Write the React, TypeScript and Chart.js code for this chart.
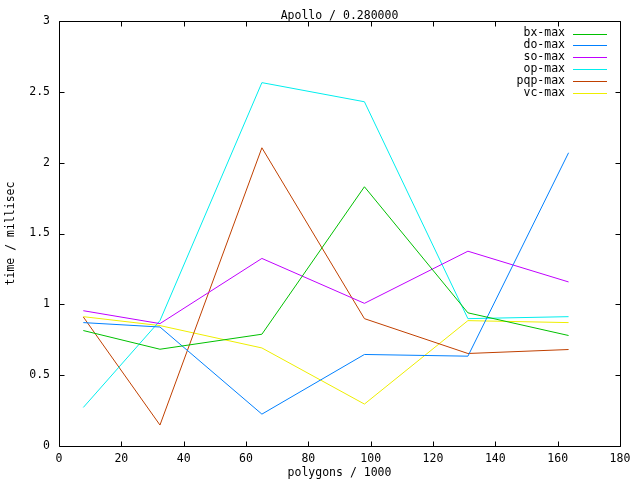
import React, { useEffect, useRef } from "react";
import { Chart, registerables } from "chart.js";

Chart.register(...registerables);

const polygons = [7.8, 32.4, 65.1, 98.0, 131.2, 163.5];
const seriesNames = ["bx-max", "do-max", "so-max", "op-max", "pqp-max", "vc-max"];
const seriesColors = ["#00c000", "#0080ff", "#c000ff", "#00eeee", "#c04000", "#eeee00"];
const bxMax = [0.815, 0.683, 0.789, 1.83, 0.94, 0.78];
const doMax = [0.871, 0.84, 0.225, 0.646, 0.634, 2.07];
const soMax = [0.955, 0.864, 1.324, 1.007, 1.375, 1.158];
const opMax = [0.272, 0.885, 2.565, 2.43, 0.899, 0.913];
const pqpMax = [0.911, 0.148, 2.105, 0.899, 0.653, 0.681];
const vcMax = [0.913, 0.85, 0.692, 0.296, 0.885, 0.871];
const xTicksStep = 20;
const yTicksStep = 0.5;
const titleText = "Apollo / 0.280000";
const xTitle = "polygons / 1000";
const yTitle = "time / millisec";

const FAMILY = "'DejaVu Sans Mono', monospace";
const SIZE = 11.5;
const FONT = `${SIZE}px ${FAMILY}`;

const gnuplotDecor = {
  id: "gnuplotDecor",
  afterDraw(chart: any) {
    const ctx = chart.ctx;
    const ca = chart.chartArea;
    const xs = chart.scales.x;
    const ys = chart.scales.y;
    ctx.save();
    ctx.strokeStyle = "#000";
    ctx.lineWidth = 1;
    const L = Math.round(ca.left) + 0.5;
    const R = Math.round(ca.right) + 0.5;
    const T = Math.round(ca.top) + 0.5;
    const B = Math.round(ca.bottom) + 0.5;
    ctx.beginPath();
    ctx.rect(L, T, R - L, B - T);
    ctx.stroke();
    const tl = 5;
    ctx.beginPath();
    xs.ticks.forEach((t: any) => {
      const px = Math.round(xs.getPixelForValue(t.value)) + 0.5;
      ctx.moveTo(px, B);
      ctx.lineTo(px, B - tl);
      ctx.moveTo(px, T);
      ctx.lineTo(px, T + tl);
    });
    ys.ticks.forEach((t: any) => {
      const py = Math.round(ys.getPixelForValue(t.value)) + 0.5;
      ctx.moveTo(L, py);
      ctx.lineTo(L + tl, py);
      ctx.moveTo(R, py);
      ctx.lineTo(R - tl, py);
    });
    ctx.stroke();

    ctx.fillStyle = "#000";
    ctx.font = FONT;
    ctx.textBaseline = "middle";
    ctx.textAlign = "center";
    ctx.fillText(titleText, (ca.left + ca.right) / 2, 16);
    ctx.fillText(xTitle, (ca.left + ca.right) / 2, 473);
    ctx.save();
    ctx.translate(11, (ca.top + ca.bottom) / 2);
    ctx.rotate(-Math.PI / 2);
    ctx.fillText(yTitle, 0, 0);
    ctx.restore();

    seriesNames.forEach((name, i) => {
      const y = 33.5 + i * 11.85;
      ctx.fillStyle = "#000";
      ctx.textAlign = "right";
      ctx.fillText(name, 565, y);
      ctx.fillStyle = seriesColors[i];
      ctx.fillRect(573, Math.round(y), 34, 1);
    });
    ctx.restore();
  },
};

export default function App() {
  const ref = useRef<HTMLCanvasElement>(null);
  useEffect(() => {
    document.body.style.margin = "0";
    const values = [bxMax, doMax, soMax, opMax, pqpMax, vcMax];
    const chart = new Chart(ref.current as HTMLCanvasElement, {
      type: "line",
      data: {
        datasets: values.map((vals, i) => ({
          label: seriesNames[i],
          data: vals.map((v, j) => ({ x: polygons[j], y: v })),
          borderColor: seriesColors[i],
          backgroundColor: seriesColors[i],
          borderWidth: 1,
          pointRadius: 0,
          tension: 0,
          fill: false,
        })),
      },
      options: {
        responsive: false,
        animation: false,
        devicePixelRatio: 1,
        layout: { padding: { top: 21, right: 20, left: 0, bottom: 0 } },
        plugins: {
          legend: { display: false },
          title: { display: false },
          tooltip: { enabled: false },
        },
        scales: {
          x: {
            type: "linear",
            min: 0,
            max: 180,
            grid: { display: false, drawTicks: false, tickLength: 0 },
            border: { display: false },
            ticks: {
              stepSize: xTicksStep,
              color: "#000",
              font: { family: FAMILY, size: SIZE },
              padding: 6,
              maxRotation: 0,
              callback: (v: any) => String(v),
            },
            afterFit: (s: any) => {
              s.height = 34;
            },
          },
          y: {
            type: "linear",
            min: 0,
            max: 3,
            grid: { display: false, drawTicks: false, tickLength: 0 },
            border: { display: false },
            ticks: {
              stepSize: yTicksStep,
              color: "#000",
              font: { family: FAMILY, size: SIZE },
              padding: 9,
              callback: (v: any) => String(v),
            },
            afterFit: (s: any) => {
              s.width = 59;
            },
          },
        },
      },
      plugins: [gnuplotDecor],
    });
    return () => chart.destroy();
  }, []);
  return (
    <div style={{ position: "absolute", left: 0, top: 0, width: 640, height: 480, background: "#fff" }}>
      <canvas ref={ref} width={640} height={480} />
    </div>
  );
}
